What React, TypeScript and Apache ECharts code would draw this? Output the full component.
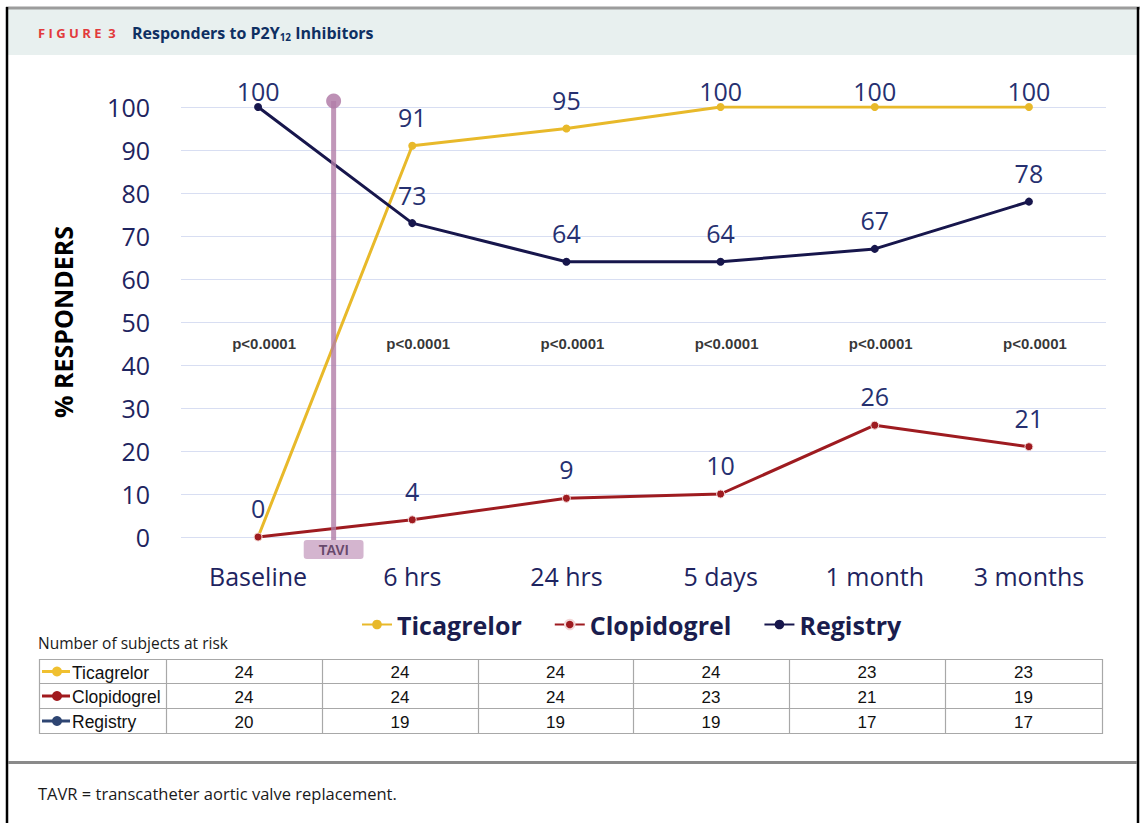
import React, { useEffect, useRef } from "react";
import * as echarts from "echarts";

const categories = ["Baseline", "6 hrs", "24 hrs", "5 days", "1 month", "3 months"];
const ticagrelor = [0, 91, 95, 100, 100, 100];
const clopidogrel = [0, 4, 9, 10, 26, 21];
const registry = [100, 73, 64, 64, 67, 78];
const pValues = ["p<0.0001", "p<0.0001", "p<0.0001", "p<0.0001", "p<0.0001", "p<0.0001"];
const pValueLevel = 45;
const taviPosition = 0.49;
const taviRange = [-0.7, 101.4];

const seriesNames = ["Ticagrelor", "Clopidogrel", "Registry"];
const atRiskTicagrelor = [24, 24, 24, 24, 23, 23];
const atRiskClopidogrel = [24, 24, 24, 23, 21, 19];
const atRiskRegistry = [20, 19, 19, 19, 17, 17];

const COLORS = {
  Ticagrelor: "#E8B92A",
  Clopidogrel: "#9E1B20",
  Registry: "#17164C",
};
const TABLE_ICON_COLORS = ["#F0C030", "#A11A1E", "#2E4572"];

const FONT = "'Open Sans', 'Noto Sans', sans-serif";
const ARIAL = "'Liberation Sans', Arial, sans-serif";
const NAVY = "#1E2460";

function buildTable() {
  const els: any[] = [];
  const left = 39.5;
  const right = 1102.5;
  const rowEdges = [659.5, 683.5, 708.5, 733.5];
  const colEdges = [166, 322, 478, 633, 789, 945];
  const stroke = "#A8A8A8";
  els.push({
    type: "rect",
    shape: { x: left, y: rowEdges[0], width: right - left, height: rowEdges[3] - rowEdges[0] },
    style: { fill: "none", stroke, lineWidth: 1.2 },
  });
  for (let i = 1; i < 3; i++) {
    els.push({
      type: "line",
      shape: { x1: left, y1: rowEdges[i], x2: right, y2: rowEdges[i] },
      style: { stroke, lineWidth: 1.2 },
    });
  }
  colEdges.forEach((cx) => {
    els.push({
      type: "line",
      shape: { x1: cx + 0.5, y1: rowEdges[0], x2: cx + 0.5, y2: rowEdges[3] },
      style: { stroke, lineWidth: 1.2 },
    });
  });
  const rows = [atRiskTicagrelor, atRiskClopidogrel, atRiskRegistry];
  rows.forEach((vals, r) => {
    const cy = (rowEdges[r] + rowEdges[r + 1]) / 2;
    els.push({
      type: "line",
      shape: { x1: 42, y1: cy, x2: 70, y2: cy },
      style: { stroke: TABLE_ICON_COLORS[r], lineWidth: 3 },
    });
    els.push({
      type: "circle",
      shape: { cx: 57, cy, r: 5 },
      style: { fill: TABLE_ICON_COLORS[r] },
    });
    els.push({
      type: "text",
      x: 72,
      y: cy + 1,
      style: {
        text: seriesNames[r],
        fill: "#111",
        font: `17.5px ${ARIAL}`,
        textAlign: "left",
        textVerticalAlign: "middle",
      },
    });
    const edges = [166, ...colEdges.slice(1), 1102];
    vals.forEach((v, c) => {
      els.push({
        type: "text",
        x: (edges[c] + edges[c + 1]) / 2,
        y: cy + 1,
        style: {
          text: String(v),
          fill: "#111",
          font: `17px ${ARIAL}`,
          textAlign: "center",
          textVerticalAlign: "middle",
        },
      });
    });
  });
  return els;
}

function lineSeries(name: string, values: number[], hideFirstLabel: boolean, borderColor?: string) {
  return {
    name,
    type: "line",
    xAxisIndex: 0,
    yAxisIndex: 0,
    symbol: "circle",
    symbolSize: 8,
    lineStyle: { width: 3, color: (COLORS as any)[name] },
    itemStyle: {
      color: (COLORS as any)[name],
      borderColor: borderColor || (COLORS as any)[name],
      borderWidth: borderColor ? 1 : 0,
    },
    data: values.map((v, i) => ({
      value: v,
      label: {
        show: !(hideFirstLabel && i === 0),
        position: "top",
        distance: v >= 100 ? 0 : 12,
        color: "#263070",
        fontSize: 25,
        fontFamily: FONT,
      },
    })),
    z: 3,
  };
}

export default function App() {
  const ref = useRef<HTMLDivElement>(null);
  useEffect(() => {
    if (!ref.current) return;
    const chart = echarts.init(ref.current, undefined, { renderer: "svg" });
    const option: any = {
      animation: false,
      backgroundColor: "#ffffff",
      grid: { left: 181, right: 37, top: 107, bottom: 286, containLabel: false },
      xAxis: [
        {
          type: "category",
          data: categories,
          boundaryGap: true,
          axisLine: { show: false },
          axisTick: { show: false },
          axisLabel: { color: NAVY, fontSize: 25, fontFamily: FONT, margin: 26 },
          splitLine: { show: false },
        },
        {
          type: "value",
          min: -0.5,
          max: 5.5,
          show: false,
          splitLine: { show: false },
        },
      ],
      yAxis: {
        type: "value",
        min: 0,
        max: 100,
        interval: 10,
        axisLine: { show: false },
        axisTick: { show: false },
        axisLabel: { color: NAVY, fontSize: 25, fontFamily: FONT, margin: 31 },
        splitLine: { lineStyle: { color: "#D8DEF2", width: 1.2 } },
        name: "% RESPONDERS",
        nameLocation: "middle",
        nameRotate: 90,
        nameGap: 106,
        nameTextStyle: { color: "#000", fontSize: 25, fontWeight: "bold", fontFamily: FONT },
      },
      legend: {
        data: seriesNames,
        left: 356,
        top: 607,
        itemWidth: 30,
        itemHeight: 12,
        itemGap: 32,
        textStyle: { color: "#1A1D4E", fontSize: 25, fontWeight: "bold", fontFamily: FONT },
      },
      series: [
        lineSeries("Ticagrelor", ticagrelor, true),
        lineSeries("Clopidogrel", clopidogrel, false, "#F3D6D6"),
        lineSeries("Registry", registry, false),
        {
          name: "p-values",
          type: "scatter",
          xAxisIndex: 0,
          yAxisIndex: 0,
          symbolSize: 0,
          silent: true,
          data: pValues.map((p, i) => ({ value: [categories[i], pValueLevel], name: p })),
          label: {
            show: true,
            position: "inside",
            formatter: (pr: any) => pr.name,
            color: "#000",
            fontSize: 15,
            fontWeight: "bold",
            fontFamily: ARIAL,
            offset: [6, 0],
          },
          z: 2,
        },
        {
          name: "TAVI",
          type: "line",
          xAxisIndex: 1,
          yAxisIndex: 0,
          clip: false,
          silent: true,
          lineStyle: { color: "#B17DA8", width: 5, opacity: 0.8 },
          itemStyle: { color: "#B17DA8", opacity: 0.85 },
          data: [
            {
              value: [taviPosition, taviRange[0]],
              symbolSize: 0,
              label: {
                show: true,
                formatter: "TAVI",
                position: "bottom",
                distance: 0,
                backgroundColor: "#CCA8C7",
                color: "#55365A",
                fontSize: 14,
                fontWeight: "bold",
                fontFamily: ARIAL,
                padding: [3, 15, 2, 15],
                borderRadius: 3,
              },
            },
            { value: [taviPosition, taviRange[1]], symbolSize: 15, label: { show: false } },
          ],
          symbol: "circle",
          z: 4,
        },
      ],
      graphic: [
        {
          type: "rect",
          shape: { x: 8, y: 9, width: 1129, height: 46 },
          style: { fill: "#E8F0EF" },
          silent: true,
        },
        {
          type: "line",
          shape: { x1: 6, y1: 8, x2: 1140, y2: 8 },
          style: { stroke: "#9C9C9C", lineWidth: 3 },
        },
        {
          type: "line",
          shape: { x1: 7, y1: 7, x2: 7, y2: 823 },
          style: { stroke: "#000", lineWidth: 2.5 },
        },
        {
          type: "line",
          shape: { x1: 1138, y1: 7, x2: 1138, y2: 823 },
          style: { stroke: "#000", lineWidth: 2.5 },
        },
        {
          type: "line",
          shape: { x1: 8, y1: 762.5, x2: 1137, y2: 762.5 },
          style: { stroke: "#8A8A8A", lineWidth: 3 },
        },
        {
          type: "text",
          x: 38,
          y: 33,
          style: {
            text: "F I G U R E  3",
            fill: "#E23A3C",
            font: `bold 13px ${FONT}`,
            textAlign: "left",
            textVerticalAlign: "middle",
          },
        },
        {
          type: "text",
          x: 132,
          y: 33,
          style: {
            text: "Responders to P2Y{sub|12} Inhibitors",
            fill: "#0E2F62",
            font: `bold 16px ${FONT}`,
            textAlign: "left",
            textVerticalAlign: "middle",
            rich: {
              sub: { fontSize: 10, fontWeight: "bold", fill: "#0E2F62", fontFamily: FONT, padding: [7, 0, 0, 0] },
            },
          },
        },
        {
          type: "text",
          x: 38,
          y: 643,
          style: {
            text: "Number of subjects at risk",
            fill: "#1A1A1A",
            font: `15.5px ${FONT}`,
            textAlign: "left",
            textVerticalAlign: "middle",
          },
        },
        {
          type: "text",
          x: 38,
          y: 793,
          style: {
            text: "TAVR = transcatheter aortic valve replacement.",
            fill: "#1A1A1A",
            font: `16.5px ${FONT}`,
            textAlign: "left",
            textVerticalAlign: "middle",
          },
        },
        ...buildTable(),
      ],
    };
    chart.setOption(option);
    return () => chart.dispose();
  }, []);
  return (
    <div
      ref={ref}
      style={{ position: "fixed", left: 0, top: 0, width: 1143, height: 823, background: "#fff" }}
    />
  );
}
